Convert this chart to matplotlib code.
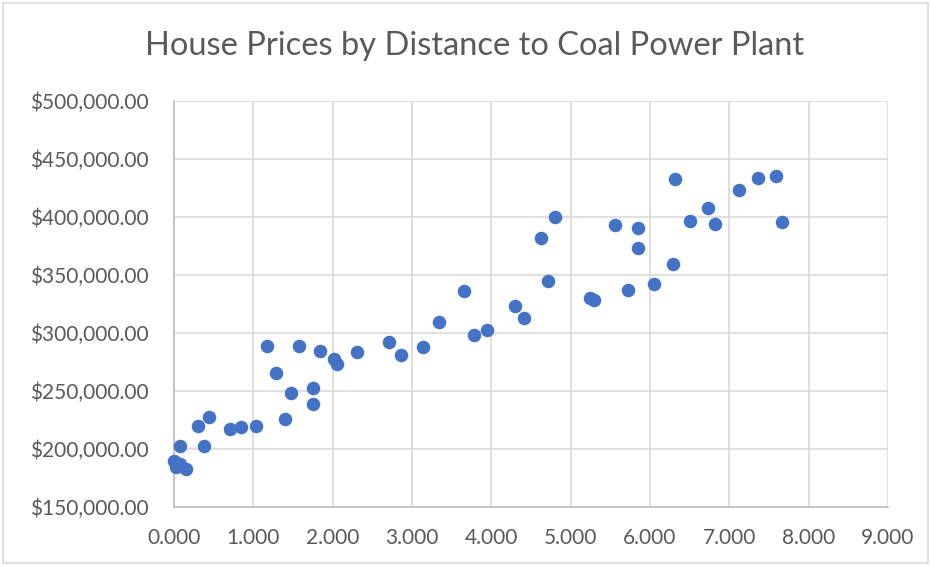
import matplotlib
matplotlib.use("Agg")
from matplotlib import pyplot as plt
from matplotlib.ticker import FuncFormatter, MultipleLocator
from matplotlib.patches import Rectangle

# distance to plant (miles) and house price ($)
distance = [0.00, 0.02, 0.07, 0.15, 0.07, 0.30, 0.38, 0.44, 0.70, 0.84,
            1.035, 1.175, 1.284, 1.40, 1.48, 1.57, 1.755, 1.755, 1.84, 2.02,
            2.06, 2.307, 2.71, 2.86, 3.136, 3.346, 3.658, 3.784, 3.94, 4.30,
            4.41, 4.62, 4.72, 4.80, 5.25, 5.29, 5.556, 5.725, 5.845, 5.846,
            6.048, 6.29, 6.32, 6.51, 6.73, 6.82, 7.12, 7.357, 7.59, 7.67]
price = [189500, 184500, 187000, 182500, 202800, 219700, 202500, 227200, 217000, 218500,
         219700, 288700, 265200, 225700, 248300, 288700, 252600, 238600, 284700, 277000,
         273200, 283500, 292000, 281300, 287800, 309300, 335900, 298500, 302700, 323000,
         313000, 381800, 344200, 399800, 330000, 328200, 392400, 336800, 373200, 390000,
         342300, 359100, 432700, 396600, 407600, 393500, 423300, 433000, 435000, 395800]

title = "House Prices by Distance to Coal Power Plant"
font = ["Lato", "DejaVu Sans"]
grey_txt = "#595959"

fig = plt.figure(figsize=(9.31, 5.66), dpi=100)
ax = fig.add_axes([174/931, 1-507/566, (888-174)/931, (507-100.5)/566])

ax.scatter(distance, price, s=95, color="#4472C4", zorder=3, linewidths=0, clip_on=False)

ax.set_xlim(0, 9)
ax.set_ylim(150000, 500000)
ax.xaxis.set_major_locator(MultipleLocator(1))
ax.yaxis.set_major_locator(MultipleLocator(50000))
ax.xaxis.set_major_formatter(FuncFormatter(lambda v, p: f"{v:.3f}"))
ax.yaxis.set_major_formatter(FuncFormatter(lambda v, p: f"${v:,.2f}"))

ax.grid(True, color="#D9D9D9", linewidth=1.2, zorder=0)
ax.set_axisbelow(True)
for s in ["top", "right"]:
    ax.spines[s].set_visible(False)
for s in ["left", "bottom"]:
    ax.spines[s].set_color("#BFBFBF")
    ax.spines[s].set_linewidth(1.2)
ax.tick_params(length=0, colors=grey_txt, labelsize=15)
ax.tick_params(axis="y", pad=18)
ax.tick_params(axis="x", pad=15)
for lab in ax.get_xticklabels() + ax.get_yticklabels():
    lab.set_family(font)

fig.text(475/931, 1-46/566, title, ha="center", va="center", fontsize=23.5,
         color=grey_txt, family=font)

fig.patches.append(Rectangle((3/931, 3/566), 1-6/931, 1-6/566, transform=fig.transFigure,
                             fill=False, edgecolor="#D9D9D9", linewidth=1.2))

fig.savefig("out.png", dpi=100)
